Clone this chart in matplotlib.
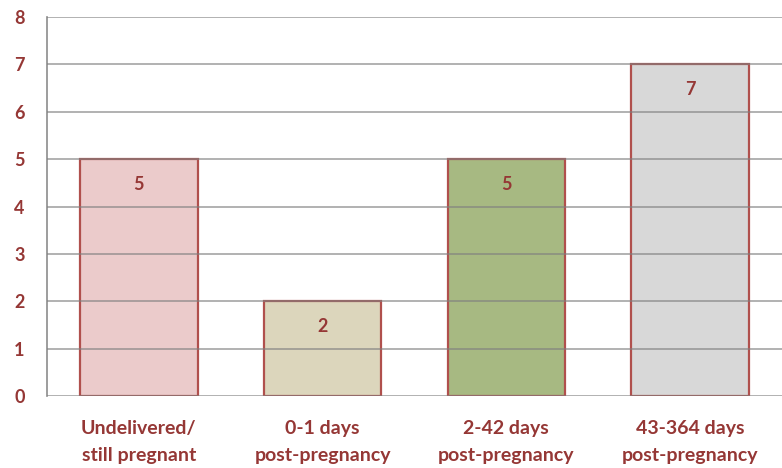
import matplotlib.pyplot as plt

categories = ["Undelivered/\nstill pregnant", "0-1 days\npost-pregnancy",
              "2-42 days\npost-pregnancy", "43-364 days\npost-pregnancy"]
values = [5, 2, 5, 7]
bar_colors = ["#EBCBCB", "#DCD6BC", "#A7B982", "#D8D8D8"]
yticks = list(range(0, 9))

text_color = "#953735"
plt.rcParams['font.family'] = ['Lato', 'DejaVu Sans']

fig = plt.figure(figsize=(7.82, 4.68), dpi=100)
ax = fig.add_axes([0.0601, 0.1538, 0.9399, 0.8099])

x = list(range(len(categories)))
bars = ax.bar(x, values, width=0.64, color=bar_colors, edgecolor="#B0504D",
              linewidth=1.6, zorder=2)

# gridlines over the bars, faint
for t in yticks:
    ax.axhline(t, color="#7f7f7f", linewidth=1.2, alpha=0.7, zorder=3)

for xi, v in zip(x, values):
    ax.text(xi, v - 0.53, str(v), ha="center", va="center", color=text_color,
            fontsize=13, fontweight="bold", zorder=4)

ax.set_xlim(-0.5, len(categories) - 0.5)
ax.set_ylim(0, 8)
ax.set_yticks(yticks)
ax.set_xticks(x)
ax.set_xticklabels(categories, color=text_color, fontsize=14, fontweight="bold",
                   linespacing=1.75)
for lab in ax.get_yticklabels():
    lab.set_color(text_color)
    lab.set_fontsize(13)
    lab.set_fontweight("bold")

ax.tick_params(axis="both", length=0)
ax.tick_params(axis="x", pad=17)
ax.tick_params(axis="y", pad=16)
for s in ["top", "right", "bottom"]:
    ax.spines[s].set_visible(False)
ax.spines["left"].set_color("#8c8c8c")
ax.spines["left"].set_linewidth(1.2)

fig.savefig("out.png", dpi=100)
